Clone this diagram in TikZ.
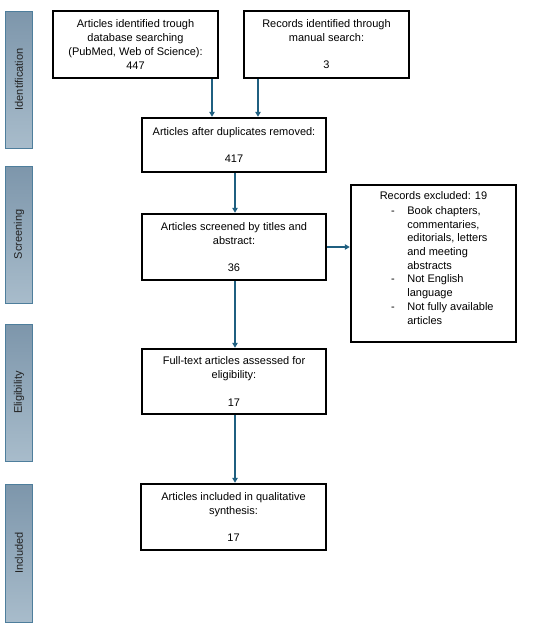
\documentclass[tikz,border=0pt]{standalone}
\usepackage{fontspec}
\setmainfont{Liberation Sans}
\usetikzlibrary{arrows.meta}
\definecolor{arrcol}{HTML}{1F5F80}
\definecolor{bartop}{HTML}{7D96AB}
\definecolor{barbot}{HTML}{A8BCCB}
\definecolor{barline}{HTML}{4E7E9C}
\definecolor{bartext}{HTML}{222222}
\tikzset{
  fbox/.style={draw=black, line width=2.5pt, fill=white, align=center, inner sep=0pt,
    font=\fontsize{11}{13.7}\selectfont},
  phase/.style={draw=barline, line width=0.9pt, top color=bartop, bottom color=barbot,
    minimum width=27pt, inner sep=0pt},
  phasetext/.style={rotate=90, font=\fontsize{11}{13}\selectfont, text=bartext},
  arr/.style={draw=arrcol, line width=1.4pt, -{Triangle[length=5pt,width=5.5pt]}}
}
\begin{document}
\begin{tikzpicture}[x=1pt,y=-1pt]
\useasboundingbox (0,0) rectangle (550,632);
% phase bars
\node[phase, minimum height=137pt] (p1) at (19,79.5) {};
\node[phasetext] (t1) at (p1.center) {Identification};
\node[phase, minimum height=137pt] (p2) at (19,234.5) {};
\node[phasetext] (t2) at (p2.center) {Screening};
\node[phase, minimum height=137pt] (p3) at (19,392.5) {};
\node[phasetext] (t3) at (p3.center) {Eligibility};
\node[phase, minimum height=138pt] (p4) at (19,553) {};
\node[phasetext] (t4) at (p4.center) {Included};
% boxes
\node[fbox, minimum width=165pt, minimum height=67pt] (A) at (135.5,44.5)
  {Articles identified trough\\database searching\\(PubMed, Web of Science):\\447};
\node[fbox, minimum width=165pt, minimum height=67pt] (B) at (326.5,44.5)
  {Records identified through\\manual search:\\[13.7pt]3};
\node[fbox, minimum width=184pt, minimum height=54pt] (C) at (234,145)
  {Articles after duplicates removed:\\[13.7pt]417};
\node[fbox, minimum width=184pt, minimum height=66pt] (D) at (234,247)
  {Articles screened by titles and\\abstract:\\[13.7pt]36};
\node[fbox, minimum width=165pt, minimum height=157pt] (E) at (433.5,263.5) {};
\node[font=\fontsize{11}{13.7}\selectfont, anchor=north, inner sep=0pt] (Et) at (433.5,191)
  {Records excluded: 19};
\node[font=\fontsize{11}{13.7}\selectfont, anchor=north west, inner sep=0pt, align=left] (El) at (391,204.7)
  {\begin{tabular}{@{}l@{\hspace{12.5pt}}l@{}}
   - & Book chapters,\\
     & commentaries,\\
     & editorials, letters\\
     & and meeting\\
     & abstracts\\
   - & Not English\\
     & language\\
   - & Not fully available\\
     & articles
   \end{tabular}};
\node[fbox, minimum width=184pt, minimum height=65pt] (F) at (234,381.5)
  {Full-text articles assessed for\\eligibility:\\[13.7pt]17};
\node[fbox, minimum width=185pt, minimum height=66pt] (G) at (233.5,517)
  {Articles included in qualitative\\synthesis:\\[13.7pt]17};
% connectors
\coordinate (xa) at (212,0);
\coordinate (xb) at (258,0);
\coordinate (xc) at (235,0);
\draw[arr] (A.south -| xa) -- (C.north -| xa);
\draw[arr] (B.south -| xb) -- (C.north -| xb);
\draw[arr] (C.south -| xc) -- (D.north -| xc);
\draw[arr] (D.east) -- (E.west |- D.east);
\draw[arr] (D.south -| xc) -- (F.north -| xc);
\draw[arr] (F.south -| xc) -- (G.north -| xc);
\end{tikzpicture}
\end{document}
